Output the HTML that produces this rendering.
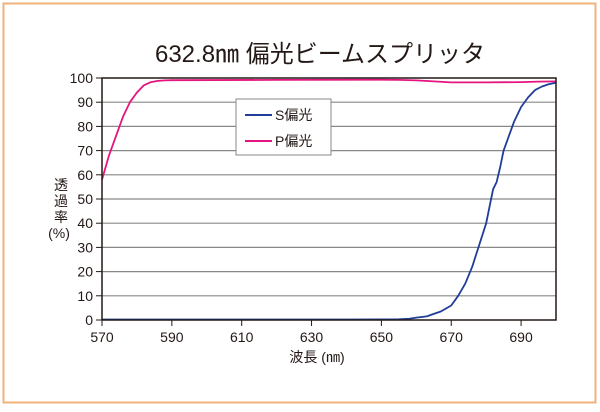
<!DOCTYPE html>
<html><head><meta charset="utf-8"><style>
body{margin:0;background:#fff;}
svg text{font-family:"Liberation Sans","Noto Sans CJK JP",sans-serif;fill:#231815;}
</style></head><body>
<svg width="600" height="407" viewBox="0 0 600 407">
<rect x="3.5" y="3.5" width="592" height="399" fill="#fff" stroke="#f2b27a" stroke-width="2"/>
<text x="320" y="62" font-size="24" text-anchor="middle">632.8㎚ 偏光ビームスプリッタ</text>
<g id="grid"></g>
<g id="ticks"></g>
<g id="series"></g>
<rect x="102" y="78" width="454" height="242" fill="none" stroke="#231815" stroke-width="1.5"/>
<g font-size="14">
<text x="61" y="190" text-anchor="middle">透</text>
<text x="61" y="206" text-anchor="middle">過</text>
<text x="61" y="222" text-anchor="middle">率</text>
<text x="59" y="238" text-anchor="middle">(%)</text>
</g>
<text x="317" y="362" font-size="14" text-anchor="middle">波長 (㎚)</text>
<g>
<rect x="236" y="99" width="95" height="56" fill="#fff" stroke="#888" stroke-width="1"/>
<line x1="245" y1="115" x2="272" y2="115" stroke="#1f3d99" stroke-width="2"/>
<text x="275" y="120" font-size="14">S偏光</text>
<line x1="245" y1="141" x2="272" y2="141" stroke="#e4157e" stroke-width="2"/>
<text x="275" y="146" font-size="14">P偏光</text>
</g>
</svg>
<script>
const xTicks=[570,590,610,630,650,670,690];
const yTicks=[0,10,20,30,40,50,60,70,80,90,100];
const pWl=[570,572,574,576,578,580,582,584,586,588,590,620,650,655,660,665,670,680,690,695,700];
const pVal=[58,68,76,84,90,94,97,98.3,98.8,99,99.1,99.2,99.3,99.2,99,98.6,98.2,98.2,98.3,98.5,98.6];
const sWl=[570,600,640,655,658,660,663,665,667,670,672,674,676,678,680,681,682,683,684,685,686,688,690,692,694,696,698,700];
const sVal=[0.2,0.2,0.2,0.3,0.5,1,1.5,2.5,3.5,6,10,15,22,31,40,47,54,57,63,70,74,82,88,92,95,96.5,97.5,98];
const NS='http://www.w3.org/2000/svg';
const X=v=>102+(v-570)*(454/130);
const Y=v=>320-v*2.42;
const grid=document.getElementById('grid'),ticks=document.getElementById('ticks'),series=document.getElementById('series');
function mk(tag,attrs,parent){const e=document.createElementNS(NS,tag);for(const k in attrs)e.setAttribute(k,attrs[k]);parent.appendChild(e);return e;}
yTicks.forEach(v=>{
 if(v>0&&v<100){const l=mk('line',{x1:102,x2:556,y1:Y(v),y2:Y(v),stroke:'#888','stroke-width':1.2},grid);
 
 }
 const t=mk('line',{x1:96,x2:102,y1:Y(v),y2:Y(v),stroke:'#231815'},ticks);
 
 
 const tx=mk('text',{x:93,y:Y(v)+5,'font-size':14,'text-anchor':'end'},ticks);tx.textContent=v;
 
 
});
xTicks.forEach(v=>{
 const t=mk('line',{x1:X(v),x2:X(v),y1:320,y2:326,stroke:'#231815'},ticks);
 
 
 const tx=mk('text',{x:X(v),y:342,'font-size':14,'text-anchor':'middle'},ticks);tx.textContent=v;
 
 
});
function line(xs,ys,color,name){
 const d=xs.map((x,i)=>(i?'L':'M')+X(x).toFixed(1)+','+Y(ys[i]).toFixed(1)).join('');
 const p=mk('path',{d:d,fill:'none',stroke:color,'stroke-width':1.8,'stroke-linejoin':'round'},series);
 
 
}
line(pWl,pVal,'#e4157e','p-polarization-line');
line(sWl,sVal,'#1f3d99','s-polarization-line');
</script>
</body></html>
